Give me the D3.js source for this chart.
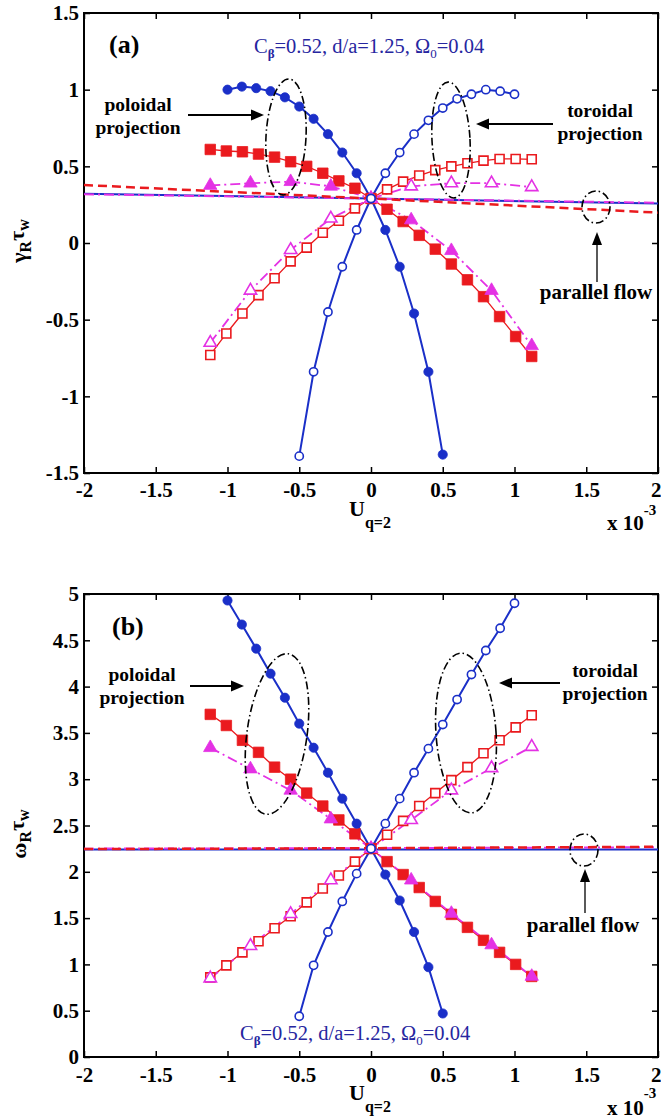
<!DOCTYPE html>
<html><head><meta charset="utf-8">
<script src="https://cdn.jsdelivr.net/npm/d3@7"></script>
<style>body{margin:0;background:#fff} svg{display:block}</style>
</head><body><svg id="c" width="661" height="1120"></svg>
<script>
// ---------- DATA (U in units of 1e-3) ----------
const xTicks = [-2,-1.5,-1,-0.5,0,0.5,1,1.5,2];
const yTicksA = [-1.5,-1,-0.5,0,0.5,1,1.5];
const yTicksB = [0,0.5,1,1.5,2,2.5,3,3.5,4,4.5,5];

const uPolCircle = [-1,-0.9,-0.8,-0.7,-0.6,-0.5,-0.4,-0.3,-0.2,-0.1,0,0.1,0.2,0.3,0.4,0.5];
const uTorCircle = [-0.5,-0.4,-0.3,-0.2,-0.1,0,0.1,0.2,0.3,0.4,0.5,0.6,0.7,0.8,0.9,1.0];
const uSquare = [-1.12,-1.008,-0.896,-0.784,-0.672,-0.56,-0.448,-0.336,-0.224,-0.112,0,0.112,0.224,0.336,0.448,0.56,0.672,0.784,0.896,1.008,1.12];
const uTriangle = [-1.12,-0.84,-0.56,-0.28,0,0.28,0.56,0.84,1.12];
const uParallel = [-2,0,2];

// panel (a): growth rate gamma_R tau_w
const gammaPolCircle = [1.00,1.02,1.01,0.99,0.95,0.89,0.81,0.71,0.59,0.455,0.29,0.085,-0.155,-0.46,-0.84,-1.38];
const gammaTorCircle = [-1.39,-0.84,-0.45,-0.155,0.085,0.29,0.455,0.59,0.71,0.80,0.88,0.94,0.97,1.00,0.99,0.97];
const gammaPolSquare = [0.61,0.60,0.595,0.58,0.56,0.53,0.50,0.455,0.405,0.357,0.29,0.22,0.14,0.05,-0.04,-0.137,-0.24,-0.35,-0.48,-0.61,-0.74];
const gammaTorSquare = [-0.73,-0.59,-0.46,-0.34,-0.23,-0.12,-0.03,0.067,0.145,0.226,0.29,0.35,0.40,0.44,0.475,0.50,0.52,0.537,0.548,0.548,0.546];
const gammaPolTri = [0.375,0.39,0.40,0.37,0.29,0.15,-0.05,-0.31,-0.67];
const gammaTorTri = [-0.65,-0.31,-0.045,0.16,0.29,0.37,0.39,0.39,0.365];
const gammaParBlue = [0.322,0.29,0.258];
const gammaParRed = [0.378,0.29,0.198];
const gammaParMag = [0.318,0.29,0.262];

// panel (b): rotation frequency omega_R tau_w
const omegaPolCircle = [4.93,4.67,4.41,4.14,3.88,3.60,3.34,3.07,2.79,2.52,2.25,1.97,1.69,1.35,0.97,0.47];
const omegaTorCircle = [0.44,0.99,1.35,1.68,1.98,2.25,2.52,2.79,3.07,3.33,3.59,3.86,4.13,4.39,4.63,4.90];
const omegaPolSquare = [3.70,3.58,3.42,3.29,3.13,3.00,2.85,2.71,2.56,2.41,2.25,2.11,1.97,1.83,1.68,1.54,1.40,1.26,1.13,1.00,0.87];
const omegaTorSquare = [0.86,0.99,1.13,1.25,1.39,1.52,1.67,1.82,1.96,2.11,2.25,2.40,2.55,2.71,2.85,2.99,3.13,3.28,3.42,3.56,3.69];
const omegaPolTri = [3.34,3.11,2.88,2.57,2.25,1.91,1.55,1.21,0.87];
const omegaTorTri = [0.85,1.20,1.545,1.91,2.25,2.56,2.88,3.12,3.35];
const omegaParBlue = [2.24,2.24,2.24];
const omegaParRed = [2.245,2.255,2.27];
const omegaParMag = [2.25,2.255,2.265];

// ---------- STYLE ----------
const FONT = '"Liberation Serif","Times New Roman",serif';
const BLUE = '#1a2fc8', RED = '#ea1a1e', MAG = '#e431e4', TEXTBLUE = '#2626a0';
const svg = d3.select('#c');
const x = d3.scaleLinear().domain([-2,2]).range([84,658]);

function series(u, v, color, marker, filled, dash, lw) {
  return {u, v, color, marker, filled, dash, lw};
}

function drawArrow(g, x1, y1, x2, y2, head=13, hw=5.5, lw=2) {
  const dx = x2-x1, dy = y2-y1, L = Math.hypot(dx,dy), ux = dx/L, uy = dy/L;
  const bx = x2-ux*head, by = y2-uy*head;
  g.append('line').attr('x1',x1).attr('y1',y1).attr('x2',bx).attr('y2',by)
    .attr('stroke','#000').attr('stroke-width',lw);
  g.append('path').attr('d',`M${x2},${y2}L${bx-uy*hw},${by+ux*hw}L${bx+uy*hw},${by-ux*hw}Z`).attr('fill','#000');
}

function drawPanel(p) {
  const y = d3.scaleLinear().domain(p.yDomain).range([p.bottom, p.top]);
  const g = svg.append('g');
  const clipId = 'clip' + p.id;
  svg.append('defs').append('clipPath').attr('id', clipId).append('rect')
    .attr('x', 84).attr('y', p.top).attr('width', 574).attr('height', p.bottom - p.top);

  // axes with inward ticks
  const fmt = d => String(d);
  const bottom = g.append('g').attr('transform', `translate(0,${p.bottom})`)
    .call(d3.axisBottom(x).tickValues(xTicks).tickSizeInner(-6).tickSizeOuter(0).tickPadding(p.xPad).tickFormat(fmt));
  const top = g.append('g').attr('transform', `translate(0,${p.top})`)
    .call(d3.axisTop(x).tickValues(xTicks).tickSizeInner(-6).tickSizeOuter(0).tickFormat(''));
  const left = g.append('g').attr('transform', `translate(84,0)`)
    .call(d3.axisLeft(y).tickValues(p.yTicks).tickSizeInner(-6).tickSizeOuter(0).tickPadding(5).tickFormat(fmt));
  const right = g.append('g').attr('transform', `translate(658,0)`)
    .call(d3.axisRight(y).tickValues(p.yTicks).tickSizeInner(-6).tickSizeOuter(0).tickFormat(''));
  [bottom, top, left, right].forEach(a => {
    a.select('.domain').remove();
    a.selectAll('line').attr('stroke', '#000').attr('stroke-width', 1.5);
    a.selectAll('text').attr('font-family', FONT).attr('font-weight', 'bold').attr('font-size', 21).attr('fill', '#000');
  });
  // keep the last x tick label inside the page
  bottom.selectAll('.tick').filter(d => d === xTicks[xTicks.length - 1]).select('text')
    .attr('text-anchor', 'end').attr('x', 3);
  g.append('rect').attr('x', 84).attr('y', p.top).attr('width', 574).attr('height', p.bottom - p.top)
    .attr('fill', 'none').attr('stroke', '#000').attr('stroke-width', 2);

  const plot = g.append('g').attr('clip-path', `url(#${clipId})`);
  const line = d3.line().x(d => x(d[0])).y(d => y(d[1]));

  // parallel-flow lines
  p.parallel.forEach(s => {
    plot.append('path').datum(s.u.map((u, i) => [u, s.v[i]])).attr('d', line)
      .attr('fill', 'none').attr('stroke', s.color).attr('stroke-width', s.lw)
      .attr('stroke-dasharray', s.dash || null);
  });

  // projection series
  p.series.forEach(s => {
    const pts = s.u.map((u, i) => [u, s.v[i]]);
    plot.append('path').datum(pts).attr('d', line)
      .attr('fill', 'none').attr('stroke', s.color).attr('stroke-width', s.lw)
      .attr('stroke-dasharray', s.dash || null);
  });
  p.series.forEach(s => {
    const pts = s.u.map((u, i) => [u, s.v[i]]);
    let sym, size;
    if (s.marker === 'circle') { sym = d3.symbolCircle; size = s.filled ? Math.PI*4.6*4.6 : Math.PI*4.1*4.1; }
    else if (s.marker === 'square') { sym = d3.symbolSquare; size = s.filled ? 10.5*10.5 : 9*9; }
    else { sym = d3.symbolTriangle; size = s.filled ? 78 : 66; }
    plot.selectAll(null).data(pts).enter().append('path')
      .attr('d', d3.symbol().type(sym).size(size))
      .attr('transform', d => `translate(${x(d[0])},${y(d[1])})`)
      .attr('fill', s.filled ? s.color : '#fff')
      .attr('stroke', s.color).attr('stroke-width', s.filled ? 0.8 : 1.6);
  });

  // annotations
  const A = p.ann;
  const ell = (e) => g.append('ellipse').attr('cx', e[0]).attr('cy', e[1]).attr('rx', e[2]).attr('ry', e[3])
      .attr('transform', `rotate(${e[4] || 0},${e[0]},${e[1]})`)
      .attr('fill', 'none').attr('stroke', '#000').attr('stroke-width', 1.6).attr('stroke-dasharray', '8,3,1.5,3');
  ell(A.polEll); ell(A.torEll); ell(A.parEll);
  drawArrow(g, ...A.polArrow);
  drawArrow(g, ...A.torArrow);
  drawArrow(g, A.parArrow[0], A.parArrow[1], A.parArrow[2], A.parArrow[3], 13, 5, 1.3);

  const btext = (t, xx, yy, anchor='middle', size=19.5) => g.append('text').attr('x', xx).attr('y', yy)
    .attr('text-anchor', anchor).attr('font-family', FONT).attr('font-weight', 'bold').attr('font-size', size).text(t);
  btext('poloidal', A.polText[0], A.polText[1]);
  btext('projection', A.polText[0], A.polText[2]);
  btext('toroidal', A.torText[0], A.torText[1]);
  btext('projection', A.torText[0], A.torText[2]);
  btext('parallel flow', A.parText[0], A.parText[1], 'middle', 21);
  btext(p.label, A.label[0], A.label[1], 'start', 26);

  // parameter text
  const pt = g.append('text').attr('x', A.param[0]).attr('y', A.param[1])
    .attr('font-family', FONT).attr('font-size', 20.5).attr('fill', TEXTBLUE);
  pt.append('tspan').text('C');
  pt.append('tspan').attr('dy', 5).attr('font-size', 13).attr('font-weight','bold').text('β');
  pt.append('tspan').attr('dy', -5).text('=0.52, d/a=1.25, Ω');
  pt.append('tspan').attr('dy', 5).attr('font-size', 13).text('0');
  pt.append('tspan').attr('dy', -5).text('=0.04');

  // y label (rotated)
  const yl = g.append('text').attr('transform', `translate(${A.ylab[0]},${A.ylab[1]}) rotate(-90)`)
    .attr('text-anchor', 'middle').attr('font-family', FONT).attr('font-weight', 'bold').attr('font-size', 22);
  yl.append('tspan').text(p.ySym);
  yl.append('tspan').attr('dy', 5).attr('font-size', 16).text('R');
  yl.append('tspan').attr('dy', -7).text('τ');
  yl.append('tspan').attr('dy', 5).attr('font-size', 16).text('w');

  // x label
  const xl = g.append('text').attr('x', 349).attr('y', A.xlab[0])
    .attr('font-family', FONT).attr('font-weight', 'bold').attr('font-size', 22);
  xl.append('tspan').text('U');
  xl.append('tspan').attr('dy', A.xlab[1] - A.xlab[0]).attr('font-size', 16).text('q=2');

  // exponent
  const ex = g.append('text').attr('x', 607).attr('y', A.exp[0])
    .attr('font-family', FONT).attr('font-weight', 'bold').attr('font-size', 21);
  ex.append('tspan').text('x 10');
  ex.append('tspan').attr('dy', A.exp[1] - A.exp[0]).attr('font-size', 15).text('-3');
}

drawPanel({
  id: 'a', label: '(a)', ySym: 'γ', yDomain: [-1.5, 1.5], yTicks: yTicksA, top: 13, bottom: 473, xPad: 9,
  parallel: [
    {u: uParallel, v: gammaParBlue, color: BLUE, lw: 2},
    {u: uParallel, v: gammaParMag, color: MAG, lw: 2, dash: '10,4,2,4'},
    {u: uParallel, v: gammaParRed, color: RED, lw: 2.5, dash: '9,5'}
  ],
  series: [
    series(uSquare, gammaPolSquare, RED, 'square', true, null, 1.3),
    series(uSquare, gammaTorSquare, RED, 'square', false, null, 1.3),
    series(uTriangle, gammaPolTri, MAG, 'triangle', true, '10,4,2,4', 1.8),
    series(uTriangle, gammaTorTri, MAG, 'triangle', false, '10,4,2,4', 1.8),
    series(uPolCircle, gammaPolCircle, BLUE, 'circle', true, null, 2),
    series(uTorCircle, gammaTorCircle, BLUE, 'circle', false, null, 2)
  ],
  ann: {
    polEll: [286, 137, 20, 58, 3], torEll: [451, 140, 19, 58, -3], parEll: [596, 207, 14, 16, 0],
    polArrow: [188, 115, 264, 115], torArrow: [553, 124, 476, 124], parArrow: [597, 282, 597, 232],
    polText: [138, 111, 134], torText: [600, 117, 140], parText: [596, 299],
    label: [109, 53], param: [254, 53], ylab: [26, 241], xlab: [516, 528], exp: [530, 515]
  }
});

drawPanel({
  id: 'b', label: '(b)', ySym: 'ω', yDomain: [0, 5], yTicks: yTicksB, top: 594, bottom: 1057, xPad: 10,
  parallel: [
    {u: uParallel, v: omegaParBlue, color: BLUE, lw: 2},
    {u: uParallel, v: omegaParMag, color: MAG, lw: 2, dash: '10,4,2,4'},
    {u: uParallel, v: omegaParRed, color: RED, lw: 2.5, dash: '9,5'}
  ],
  series: [
    series(uSquare, omegaPolSquare, RED, 'square', true, null, 1.3),
    series(uSquare, omegaTorSquare, RED, 'square', false, null, 1.3),
    series(uTriangle, omegaPolTri, MAG, 'triangle', true, '10,4,2,4', 1.8),
    series(uTriangle, omegaTorTri, MAG, 'triangle', false, '10,4,2,4', 1.8),
    series(uPolCircle, omegaPolCircle, BLUE, 'circle', true, null, 2),
    series(uTorCircle, omegaTorCircle, BLUE, 'circle', false, null, 2)
  ],
  ann: {
    polEll: [277, 734, 30, 81, 8], torEll: [466, 733, 30, 80, -4], parEll: [584, 850, 14, 16, 0],
    polArrow: [190, 686, 244, 686], torArrow: [560, 683, 499, 683], parArrow: [585, 913, 585, 869],
    polText: [142, 681, 704], torText: [605, 677, 700], parText: [583, 932],
    label: [112, 635], param: [240, 1040], ylab: [26, 834], xlab: [1100, 1112], exp: [1115, 1098]
  }
});
</script></body></html>
